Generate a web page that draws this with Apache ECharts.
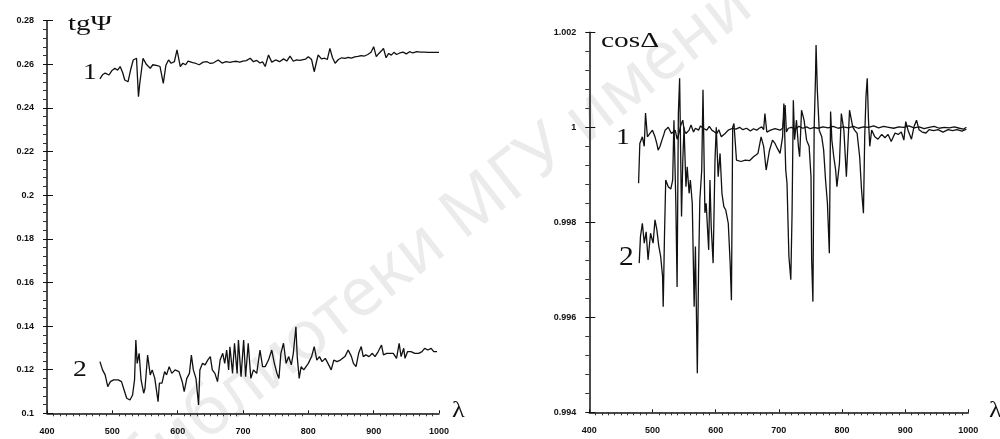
<!DOCTYPE html>
<html>
<head>
<meta charset="utf-8">
<script src="https://cdn.jsdelivr.net/npm/echarts@6/dist/echarts.min.js"></script>
<style>
  html, body { margin: 0; padding: 0; background: #fff; }
  #chart { width: 1000px; height: 439px; }
</style>
</head>
<body>
<div id="chart"></div>
<script>
// tg(psi), curve 1
var tgLam1 = [481,485,489,491,495,499,504,508,512,516,519,524,528,532,537,540,542,547,552,558,562,565,569,573,578,582,586,590,595,599,604,608,612,616,619,623,627,633,639,645,650,655,662,668,674,680,685,690,695,700,705,711,716,721,726,730,734,739,744,750,756,762,767,772,777,782,787,792,796,800,805,809,812,815,820,825,829,833,837,841,846,851,856,861,866,871,876,881,886,891,896,900,904,908,912,915,919,923,927,931,935,940,945,950,955,960,966,972,978,984,990,996,1000];
var tgVal1 = [0.2533,0.2552,0.2560,0.2566,0.2551,0.2570,0.2582,0.2573,0.2590,0.2560,0.2528,0.2520,0.2575,0.2620,0.2628,0.2452,0.2513,0.2628,0.2600,0.2582,0.2598,0.2605,0.2594,0.2590,0.2513,0.2596,0.2620,0.2605,0.2612,0.2666,0.2590,0.2605,0.2598,0.2615,0.2620,0.2608,0.2605,0.2598,0.2610,0.2612,0.2604,0.2607,0.2620,0.2606,0.2612,0.2609,0.2612,0.2614,0.2610,0.2615,0.2617,0.2628,0.2612,0.2618,0.2606,0.2611,0.2590,0.2643,0.2610,0.2620,0.2612,0.2625,0.2615,0.2638,0.2614,0.2620,0.2618,0.2622,0.2624,0.2635,0.2622,0.2566,0.2605,0.2643,0.2625,0.2628,0.2622,0.2673,0.2630,0.2605,0.2622,0.2630,0.2627,0.2632,0.2628,0.2634,0.2636,0.2640,0.2638,0.2645,0.2655,0.2681,0.2635,0.2650,0.2662,0.2673,0.2630,0.2650,0.2642,0.2655,0.2645,0.2652,0.2656,0.2648,0.2658,0.2652,0.2658,0.2656,0.2656,0.2655,0.2655,0.2655,0.2655];

// tg(psi), curve 2
var tgLam2 = [481,485,489,493,497,502,509,514,518,522,527,531,534,536,538,541,544,548,550,554,558,561,565,570,572,576,580,583,587,591,596,602,607,610,614,618,621,624,628,632,634,638,642,646,650,653,657,661,665,669,672,675,678,680,684,687,691,693,697,701,704,708,712,716,721,726,730,734,739,744,748,752,755,758,762,766,770,774,777,781,783,786,789,793,796,800,805,809,813,817,821,826,830,835,839,844,849,852,856,861,866,869,873,877,881,884,888,893,898,902,907,912,915,920,925,930,935,939,942,946,948,952,957,963,969,974,978,983,988,992,997];
var tgVal2 = [0.1237,0.1199,0.1176,0.1122,0.1145,0.1153,0.1153,0.1145,0.1107,0.1069,0.1061,0.1084,0.1153,0.1336,0.1229,0.1275,0.1153,0.1092,0.1115,0.1267,0.1176,0.1199,0.1160,0.1053,0.1138,0.1138,0.1191,0.1176,0.1214,0.1183,0.1199,0.1191,0.1145,0.1099,0.1160,0.1183,0.1267,0.1199,0.1160,0.1038,0.1199,0.1229,0.1222,0.1244,0.1260,0.1199,0.1183,0.1145,0.1244,0.1275,0.1229,0.1290,0.1199,0.1305,0.1183,0.1321,0.1183,0.1336,0.1168,0.1336,0.1168,0.1321,0.1160,0.1199,0.1183,0.1290,0.1214,0.1214,0.1244,0.1290,0.1229,0.1183,0.1160,0.1275,0.1321,0.1229,0.1260,0.1222,0.1275,0.1397,0.1260,0.1160,0.1214,0.1199,0.1191,0.1229,0.1260,0.1306,0.1244,0.1260,0.1237,0.1252,0.1229,0.1199,0.1244,0.1237,0.1244,0.1237,0.1260,0.1290,0.1260,0.1229,0.1214,0.1275,0.1306,0.1260,0.1268,0.1260,0.1275,0.1260,0.1283,0.1313,0.1268,0.1275,0.1275,0.1275,0.1252,0.1321,0.1260,0.1298,0.1252,0.1283,0.1283,0.1275,0.1275,0.1283,0.1298,0.1290,0.1298,0.1283,0.1283];

// cos(delta), curve 1
var cdLam1 = [478,480,484,487,489,492,496,500,504,507,509,512,515,518,520,525,530,536,539,542,545,548,550,553,558,561,565,568,573,576,580,586,590,594,597,602,605,609,615,620,627,632,638,643,649,655,660,665,669,673,676,678,681,687,694,702,706,710,712,715,720,726,732,738,744,750,756,762,770,778,786,794,802,810,818,826,834,842,850,858,866,874,882,890,898,906,914,922,930,938,946,954,962,970,978,986,992,997];
var cdVal1 = [0.99882,0.99966,0.99980,0.99960,1.00030,0.99980,0.99987,0.99994,0.99980,0.99965,0.99952,0.99960,0.99973,0.99985,0.99994,1.00000,0.99987,0.99994,0.99975,0.99987,1.00005,1.00015,0.99995,0.99987,0.99994,1.00005,0.99990,0.99998,0.99994,1.00003,0.99998,0.99994,1.00002,0.99994,0.99990,0.99987,0.99995,0.99980,0.99987,0.99994,0.99998,0.99996,1.00000,0.99995,0.99998,0.99992,0.99997,0.99994,0.99998,1.00001,0.99995,1.00029,0.99990,0.99994,0.99997,0.99994,0.99998,1.00047,0.99990,0.99998,1.00000,0.99996,1.00002,0.99998,1.00001,0.99997,1.00000,0.99998,1.00001,0.99999,1.00002,0.99998,1.00001,0.99999,1.00002,0.99998,1.00001,1.00000,1.00003,0.99999,1.00002,1.00000,0.99998,1.00001,1.00000,1.00003,0.99999,1.00001,0.99997,1.00000,1.00002,0.99998,1.00000,0.99999,1.00001,0.99998,0.99996,1.00000];

// cos(delta), curve 2
var cdLam2 = [479,481,484,487,490,493,497,501,504,507,510,513,516,517,519,521,525,529,532,534,537,539,541,543,546,548,550,553,555,558,560,563,566,568,571,573,575,578,580,583,585,589,591,593,596,599,601,604,607,610,613,616,620,623,625,627,629,633,640,647,654,660,667,672,676,680,685,690,694,698,702,706,708,711,713,716,719,721,723,725,728,731,733,736,740,744,748,751,752,754,756,758,759,761,764,768,771,774,777,780,782,784,787,790,792,796,799,803,807,810,812,817,820,824,828,831,834,836,838,840,842,844,847,852,857,863,868,873,878,884,889,894,898,901,905,910,914,918,922,927,933,938,945,952,960,968,975,982,990,997];
var cdVal2 = [0.99714,0.99770,0.99798,0.99756,0.99780,0.99721,0.99777,0.99756,0.99805,0.99784,0.99750,0.99728,0.99686,0.99622,0.99770,0.99889,0.99875,0.99870,0.99889,1.00015,0.99840,0.99664,1.00029,1.00103,0.99812,0.99930,1.00000,0.99875,0.99917,0.99861,0.99889,0.99840,0.99622,0.99749,0.99482,0.99700,0.99847,0.99910,1.00079,0.99820,0.99840,0.99742,0.99889,0.99791,0.99714,0.99931,1.00000,0.99896,0.99945,0.99861,0.99833,0.99826,0.99798,0.99714,0.99636,1.00000,1.00008,0.99931,0.99928,0.99931,0.99930,0.99938,0.99945,0.99980,0.99960,0.99910,0.99950,0.99973,0.99966,0.99955,0.99945,0.99980,1.00050,0.99910,0.99882,0.99728,0.99679,0.99819,1.00057,0.99974,1.00015,0.99960,0.99938,1.00036,1.00015,0.99973,0.99960,0.99896,0.99721,0.99633,1.00000,1.00100,1.00173,1.00078,0.99994,0.99980,0.99952,0.99889,0.99840,0.99735,1.00033,0.99973,0.99938,0.99910,0.99875,0.99924,1.00029,0.99994,0.99896,0.99980,1.00036,1.00001,0.99994,0.99987,0.99938,0.99868,0.99819,0.99980,1.00064,1.00103,1.00015,0.99960,0.99994,0.99980,0.99975,0.99985,0.99978,0.99985,0.99970,0.99988,0.99985,0.99990,0.99973,1.00012,0.99992,0.99975,1.00001,1.00015,0.99995,0.99990,0.99988,0.99995,0.99993,0.99995,0.99990,0.99995,0.99993,0.99995,0.99992,0.99996];

// ось
var lamTicks = { min: 400, max: 1000, interval: 100 };
var tgTicks = { min: 0.1, max: 0.28, interval: 0.02 };
var cdTicks = { min: 0.994, max: 1.002, interval: 0.002 };

function zip(a, b) {
  var out = [];
  for (var i = 0; i < a.length; i++) out.push([a[i], b[i]]);
  return out;
}

var chart = echarts.init(document.getElementById('chart'), null, { renderer: 'canvas' });

var ink = '#111';
var lblStyle = { color: ink, fontSize: 9, fontWeight: 'bold', fontFamily: 'Liberation Sans' };

function mainX(grid) {
  return {
    type: 'value', gridIndex: grid, min: lamTicks.min, max: lamTicks.max, interval: lamTicks.interval,
    axisLine: { show: true, lineStyle: { color: ink, width: 1.5 } },
    axisTick: { show: false },
    minorTick: { show: true, splitNumber: 10, length: 3, lineStyle: { color: '#333', width: 1 } },
    splitLine: { show: false },
    axisLabel: Object.assign({ margin: 14, formatter: function (v) { return String(v); } }, lblStyle)
  };
}
function overX(grid) {
  return {
    type: 'value', gridIndex: grid, min: lamTicks.min, max: lamTicks.max, interval: lamTicks.interval,
    axisLine: { show: false },
    axisTick: { show: true, inside: true, length: 3, lineStyle: { color: ink, width: 1 } },
    axisLabel: { show: false },
    splitLine: { show: false }
  };
}
function mainY(grid, t) {
  return {
    type: 'value', gridIndex: grid, min: t.min, max: t.max, interval: t.interval,
    axisLine: { show: true, lineStyle: { color: ink, width: 1.5 } },
    axisTick: { show: true, length: 4, lineStyle: { color: ink, width: 1 } },
    minorTick: { show: true, splitNumber: 5, length: 4, lineStyle: { color: '#333', width: 1 } },
    splitLine: { show: false },
    axisLabel: Object.assign({ margin: 13 }, lblStyle)
  };
}
function overY(grid, t) {
  return {
    type: 'value', gridIndex: grid, min: t.min, max: t.max, interval: t.interval,
    axisLine: { show: false },
    axisTick: { show: true, inside: true, length: 6, lineStyle: { color: ink, width: 1 } },
    axisLabel: { show: false },
    splitLine: { show: false }
  };
}
function curve(data, xi) {
  return {
    type: 'line', xAxisIndex: xi, yAxisIndex: xi, data: data,
    symbol: 'none', smooth: false,
    lineStyle: { color: ink, width: 1.3 }
  };
}
function txt(text, x, y, size, sx) {
  return {
    type: 'text', x: x, y: y, scaleX: sx, z: 10,
    style: { text: text, font: size + 'px "Liberation Serif"', fill: ink, textVerticalAlign: 'top' }
  };
}

var leftGrid = { left: 47, right: 561, top: 20.7, bottom: 25.7, outerBoundsMode: 'none' };
var rightGrid = { left: 589.3, right: 31.7, top: 32.3, bottom: 26.7, outerBoundsMode: 'none' };

var option = {
  animation: false,
  backgroundColor: '#fff',
  grid: [leftGrid, Object.assign({}, leftGrid), rightGrid, Object.assign({}, rightGrid)],
  xAxis: [mainX(0), overX(1), mainX(2), overX(3)],
  yAxis: [mainY(0, tgTicks), overY(1, tgTicks), mainY(2, cdTicks), overY(3, cdTicks)],
  series: [
    curve(zip(tgLam1, tgVal1), 0),
    curve(zip(tgLam2, tgVal2), 0),
    curve(zip(cdLam1, cdVal1), 2),
    curve(zip(cdLam2, cdVal2), 2)
  ],
  graphic: [
    {
      type: 'text', x: 128, y: 478, rotation: 38 * Math.PI / 180, z: -1,
      style: { text: 'библиотеки МГУ имени', font: '68px "Noto Sans"', fill: 'rgba(0,0,0,0.08)', textVerticalAlign: 'middle' }
    },
    txt('tgΨ', 68, 15, 20, 1.45),
    txt('1', 83, 61, 24, 1.15),
    txt('2', 73, 358, 23, 1.2),
    txt('λ', 452, 399, 24, 1.1),
    txt('cosΔ', 601, 31, 21, 1.4),
    txt('1', 616, 126, 23, 1.2),
    txt('2', 619, 244, 28, 1.05),
    txt('λ', 989, 399, 24, 1.1)
  ]
};

chart.setOption(option);
</script>
</body>
</html>
